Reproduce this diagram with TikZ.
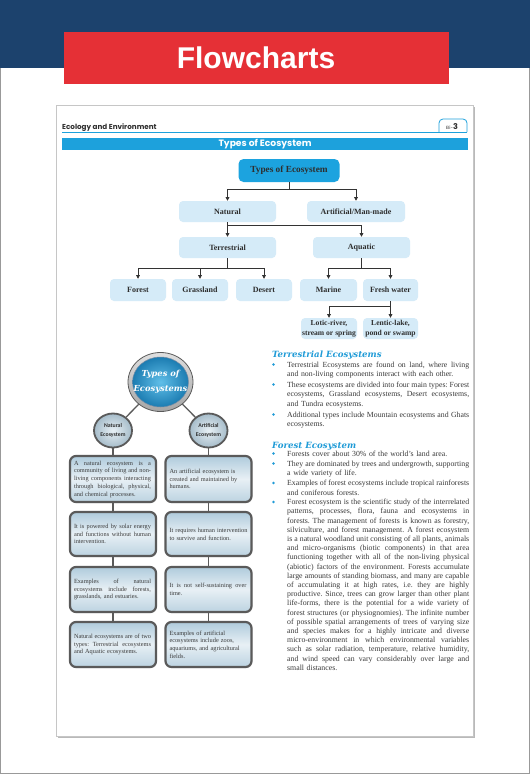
\documentclass[tikz,border=0pt]{standalone}
\usepackage{fontspec}
\setmainfont{Liberation Serif}
\newfontfamily\arialf{Liberation Sans}
\newfontfamily\geof{Poppins}
\newfontfamily\headf{DejaVu Serif}
\newfontfamily\calf{Carlito}
\usetikzlibrary{arrows.meta,shapes.geometric,shadows}
\definecolor{navy}{HTML}{1C426D}
\definecolor{redb}{HTML}{E53036}
\definecolor{skyb}{HTML}{1DA1DC}
\definecolor{topnode}{HTML}{1CA3DF}
\definecolor{lightnode}{HTML}{D5EBF8}
\definecolor{headblue}{HTML}{1F9BD7}
\definecolor{txt}{HTML}{2E2E2E}
\definecolor{bodytxt}{HTML}{3A3A3A}
\definecolor{arrowc}{HTML}{333333}
\definecolor{boxb}{HTML}{5A5A5A}
\definecolor{boxtop}{HTML}{AFCBDC}
\definecolor{boxmid}{HTML}{E8F0F5}
\definecolor{boxbot}{HTML}{BCD3E1}
\newcommand\jl[2][182pt]{\leavevmode\hbox to #1{\spaceskip=0.25em plus 1fil minus 0.06em\xspaceskip=\spaceskip\relax #2}}
\newcommand\fl{\rule{0pt}{6pt}}
\hyphenpenalty=10000
\exhyphenpenalty=10000
\begin{document}
\frenchspacing
\begin{tikzpicture}[x=1pt,y=-1pt,
 fc/.style={rounded corners=4pt, fill=lightnode, inner sep=0pt, font=\bfseries\fontsize{8}{9}\selectfont, text=txt, align=center},
 conn/.style={draw=arrowc, line width=0.8pt},
 arr/.style={conn, -{Triangle[length=3.6pt,width=3.6pt]}},
 gline/.style={draw=boxb, line width=1.3pt},
 ibox/.style={rounded corners=6pt, draw=boxb, line width=2.2pt, top color=boxtop, bottom color=boxbot, middle color=boxmid, minimum width=86pt, minimum height=45pt, inner sep=0pt, text width=78pt, align=left, font=\fontsize{6.3}{7.75}\selectfont, text=bodytxt, drop shadow={opacity=0.3, shadow xshift=0.8pt, shadow yshift=-1.2pt}},
 smallc/.style={ellipse, minimum width=38pt, minimum height=34pt, inner sep=0pt, draw=boxb, line width=1.8pt, inner color=boxmid, outer color=boxtop!80!gray, font=\calf\bfseries\fontsize{5.8}{8.5}\selectfont, text=txt, align=center},
 para/.style={anchor=north west, inner sep=0pt, text width=182pt, align=left, font=\fontsize{7.8}{9.4}\selectfont, text=bodytxt},
 head/.style={anchor=base west, inner sep=0pt, font=\headf\bfseries\itshape\fontsize{8.6}{10}\selectfont, text=headblue}
]
\useasboundingbox (0,0) rectangle (530,774);
\draw[gray!80, line width=1pt] (0.5,0.5) rectangle (529.5,773.5);
\fill[navy] (0,0) rectangle (530,68);
\fill[redb] (63.6,32) rectangle (449,84);
\node[font=\arialf\bfseries\fontsize{30}{30}\selectfont, text=white, inner sep=0pt] (title) at (256,58) {Flowcharts};
% page
\fill[gray!55] (57.5,106.5) rectangle (474.5,737.5);
\filldraw[fill=white, draw=gray!45, line width=0.8pt] (56,105) rectangle (473,736);
% header
\node[anchor=base west, font=\geof\bfseries\fontsize{7.2}{8}\selectfont, text=txt, inner sep=0pt] (eco) at (62,129) {Ecology and Environment};
\draw[skyb, line width=0.9pt] (62,132) -- (467,132);
\draw[skyb, line width=0.8pt, rounded corners=4pt] (439,132) -- (439,119) -- (467,119) -- (467,132);
\node[inner sep=0pt, text=txt] (ee) at (452,126.5) {{\geof\fontsize{4.5}{5}\selectfont EE-}{\geof\bfseries\fontsize{8}{8}\selectfont 3}};
\fill[skyb] (62,138) rectangle (468,150);
\node[font=\geof\bfseries\fontsize{9.2}{10}\selectfont, text=white, inner sep=0pt] (bartitle) at (265,144) {Types of Ecosystem};
% flowchart
\node[fc, fill=topnode, minimum width=101pt, minimum height=23pt, font=\bfseries\fontsize{9.3}{10}\selectfont, rounded corners=5pt] (top) at (289,170.5) {Types of Ecosystem};
\node[fc, minimum width=97pt, minimum height=21pt] (nat) at (227.5,211.5) {Natural};
\node[fc, minimum width=98pt, minimum height=21pt] (art) at (356,211.5) {Artificial/Man-made};
\node[fc, minimum width=97pt, minimum height=21pt] (ter) at (227.5,247.5) {Terrestrial};
\node[fc, minimum width=97pt, minimum height=21pt] (aqu) at (361.5,247.5) {Aquatic};
\node[fc, minimum width=56pt, minimum height=22pt] (for) at (138,290) {Forest};
\node[fc, minimum width=56pt, minimum height=22pt] (gra) at (200,290) {Grassland};
\node[fc, minimum width=56pt, minimum height=22pt] (des) at (264,290) {Desert};
\node[fc, minimum width=57pt, minimum height=22pt] (mar) at (328.5,290) {Marine};
\node[fc, minimum width=55pt, minimum height=22pt] (fre) at (390.5,290) {Fresh water};
\node[fc, minimum width=56pt, minimum height=21pt, font=\bfseries\fontsize{7.6}{10}\selectfont] (lot) at (329,328.5) {Lotic-river,\\stream or spring};
\node[fc, minimum width=55pt, minimum height=21pt, font=\bfseries\fontsize{7.6}{10}\selectfont] (len) at (390.5,328.5) {Lentic-lake,\\pond or swamp};
\draw[conn] (top.south) -- ++(0,7) coordinate (j1);
\draw[arr] (j1) -| (nat.north);
\draw[arr] (j1) -| (art.north);
\draw[conn] (nat.south) -- ++(0,3) coordinate (j2);
\draw[arr] (j2) -- (ter.north);
\draw[arr] (j2) -| (aqu.north);
\draw[conn] (ter.south) -- ++(0,10.5) coordinate (j3);
\draw[arr] (j3) -| (for.north);
\draw[arr] (j3) -| (gra.north);
\draw[arr] (j3) -| (des.north);
\draw[conn] (aqu.south) -- ++(0,10.5) coordinate (j4);
\draw[arr] (j4) -| (mar.north);
\draw[arr] (j4) -| (fre.north);
\draw[conn] (fre.south) -- ++(0,5) coordinate (j5);
\draw[arr] (j5) -- (len.north);
\draw[arr] (j5) -| (lot.north);
% infographic
\node[ellipse, minimum width=65pt, minimum height=59pt, inner sep=0pt, draw=boxb, line width=0.8pt, top color=gray!25, bottom color=gray!70] (tcr) at (160.5,382) {};
\node[ellipse, minimum width=56pt, minimum height=50pt, inner sep=0pt, draw=navy!60, line width=0.5pt, inner color=topnode!70!white, outer color=topnode!60!navy] (tcc) at (160.5,382) {};
\node[font=\headf\bfseries\itshape\fontsize{8.3}{14.5}\selectfont, text=white, align=center, inner sep=0pt] (tct) at (160.5,382) {Types of\\Ecosystems};
\node[smallc] (nc) at (113,430.5) {Natural\\Ecosystem};
\node[smallc] (ac) at (208.5,430.5) {Artificial\\Ecosystem};
\draw[gline] (tcr) -- (nc);
\draw[gline] (tcr) -- (ac);
\draw[gline] (nc.south) -- (113,455);
\draw[gline] (ac.south) -- (208.5,455);
\draw[gline] (113,500) -- (113,568);
\draw[gline] (113,560) -- (113,623);
\draw[gline] (208.5,500) -- (208.5,568);
\draw[gline] (208.5,560) -- (208.5,623);
\node[ibox, minimum height=46pt] (l1) at (113,479) {\jl[77pt]{A natural ecosystem is a}\\\jl[77pt]{community of living and non-}\\\jl[77pt]{living components interacting}\\\jl[77pt]{through biological, physical,}\\and chemical processes.};
\node[ibox, minimum height=44pt] (l2) at (113,534) {\jl[77pt]{It is powered by solar energy}\\\jl[77pt]{and functions without human}\\intervention.};
\node[ibox] (l3) at (113,589.5) {\jl[77pt]{Examples of natural}\\\jl[77pt]{ecosystems include forests,}\\grasslands, and estuaries.};
\node[ibox] (l4) at (113,644.5) {\jl[77pt]{Natural ecosystems are of two}\\\jl[77pt]{types: Terrestrial ecosystems}\\and Aquatic ecosystems.};
\node[ibox, minimum height=46pt] (r1) at (208.5,479) {An artificial ecosystem is\\created and maintained by\\humans.};
\node[ibox, minimum height=44pt] (r2) at (208.5,534) {\mbox{It requires human intervention}\\to survive and function.};
\node[ibox] (r3) at (208.5,589.5) {\jl[77pt]{It is not self-sustaining over}\\time.};
\node[ibox] (r4) at (208.5,644.5) {Examples of artificial\\ecosystems include zoos,\\aquariums, and agricultural\\fields.};
% right column
\node[head] (h1) at (272,357) {Terrestrial Ecosystems};
\fill[headblue] (273.5,364.4) circle (1.4pt);
\node[para] (p1) at (287,361) {\fl\jl{Terrestrial Ecosystems are found on land, where living}\\and non-living components interact with each other.};
\fill[headblue] (273.5,384.4) circle (1.4pt);
\node[para] (p2) at (287,381) {\fl\jl{These ecosystems are divided into four main types: Forest}\\\jl{ecosystems, Grassland ecosystems, Desert ecosystems,}\\and Tundra ecosystems.};
\fill[headblue] (273.5,414.4) circle (1.4pt);
\node[para] (p3) at (287,411) {\fl\jl{Additional types include Mountain ecosystems and Ghats}\\ecosystems.};
\node[head] (h2) at (272,448) {Forest Ecosystem};
\fill[headblue] (273.5,453.4) circle (1.4pt);
\node[para] (p4) at (287,450) {\fl Forests cover about 30\% of the world's land area.};
\fill[headblue] (273.5,463.4) circle (1.4pt);
\node[para] (p5) at (287,460) {\fl\jl{They are dominated by trees and undergrowth, supporting}\\a wide variety of life.};
\fill[headblue] (273.5,482.9) circle (1.4pt);
\node[para] (p6) at (287,479.5) {\fl\jl{Examples of forest ecosystems include tropical rainforests}\\and coniferous forests.};
\fill[headblue] (273.5,501.9) circle (1.4pt);
\node[para, font=\fontsize{7.8}{9.2}\selectfont] (p7) at (287,498.5) {\fl\jl{Forest ecosystem is the scientific study of the interrelated}\\
\jl{patterns, processes, flora, fauna and ecosystems in}\\
\jl{forests. The management of forests is known as forestry,}\\
\jl{silviculture, and forest management. A forest ecosystem}\\
\jl{is a natural woodland unit consisting of all plants, animals}\\
\jl{and micro-organisms (biotic components) in that area}\\
\jl{functioning together with all of the non-living physical}\\
\jl{(abiotic) factors of the environment. Forests accumulate}\\
\jl{large amounts of standing biomass, and many are capable}\\
\jl{of accumulating it at high rates, i.e. they are highly}\\
\jl{productive. Since, trees can grow larger than other plant}\\
\jl{life-forms, there is the potential for a wide variety of}\\
\jl{forest structures (or physiognomies). The infinite number}\\
\jl{of possible spatial arrangements of trees of varying size}\\
\jl{and species makes for a highly intricate and diverse}\\
\jl{micro-environment in which environmental variables}\\
\jl{such as solar radiation, temperature, relative humidity,}\\
\jl{and wind speed can vary considerably over large and}\\
small distances.};
\end{tikzpicture}
\end{document}
